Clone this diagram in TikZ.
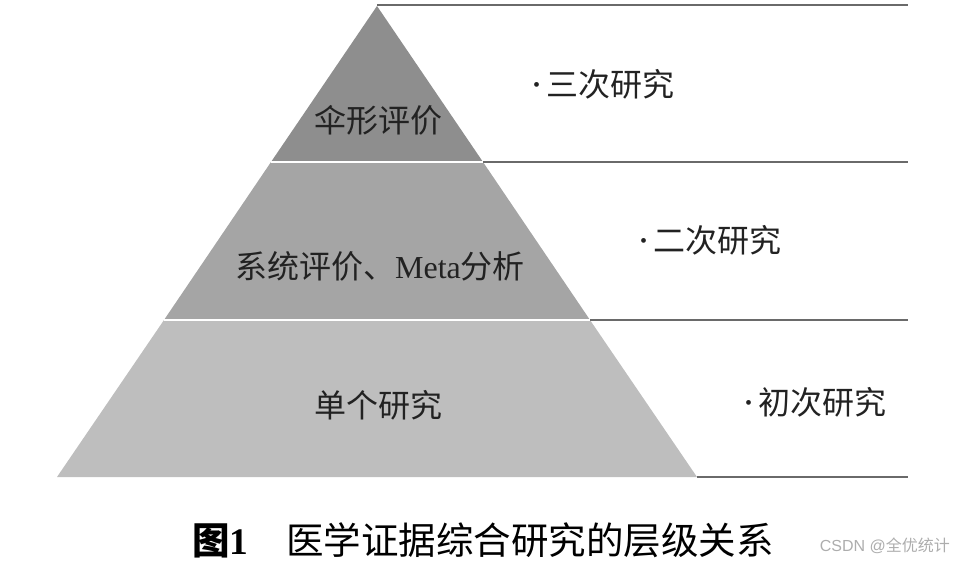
\documentclass[tikz,border=0pt]{standalone}
\usepackage{fontspec}
\setmainfont{Liberation Serif}
\newfontfamily\cjk{Noto Sans CJK SC}
\usepackage{tikz}
\definecolor{topgray}{HTML}{8E8E8E}
\definecolor{midgray}{HTML}{A5A5A5}
\definecolor{lowgray}{HTML}{BEBEBE}
\definecolor{rulegray}{HTML}{6A6A6A}
\definecolor{inkgray}{HTML}{222222}
\newcommand{\dotmark}{\raisebox{5pt}{\fontspec{Liberation Serif}\fontsize{20}{20}\selectfont\textbullet}\hspace{6pt}}
\tikzset{
  lvl/.style={font=\cjk\fontsize{32}{32}\selectfont,text=inkgray,inner sep=0pt},
  rule/.style={rulegray,line width=2pt},
  gap/.style={white,line width=2pt}
}
\begin{document}
\begin{tikzpicture}[x=1pt,y=-1pt,line cap=butt,line join=round]
\useasboundingbox (0,0) rectangle (954,564);
% pyramid corners and layer edges
\coordinate (apex) at (377,6);
\coordinate (aL) at (271,162); \coordinate (aR) at (483,162);
\coordinate (bL) at (164,320); \coordinate (bR) at (590,320);
\coordinate (cL) at (57,477);  \coordinate (cR) at (697,477);
\fill[topgray] (apex) -- (aR) -- (aL) -- cycle;
\fill[midgray] (aL) -- (aR) -- (bR) -- (bL) -- cycle;
\fill[lowgray] (bL) -- (bR) -- (cR) -- (cL) -- cycle;
\draw[gap] (aL) -- (aR);
\draw[gap] (bL) -- (bR);
% rules to the right
\foreach \p/\y in {apex/5,aR/162,bR/320,cR/477} {
  \coordinate (e\p) at (908,\y);
  \draw[rule] (\p |- e\p) -- (e\p);
}
% level labels
\node[lvl] (umb) at (378,120) {伞形评价};
\node[lvl] (sys) at (380,266) {系统评价、\fontspec{Liberation Serif}Meta\cjk 分析};
\node[lvl] (single) at (378,405) {单个研究};
\node[lvl,anchor=west] (third) at (533,84) {\dotmark 三次研究};
\node[lvl,anchor=west] (second) at (640,240) {\dotmark 二次研究};
\node[lvl,anchor=west] (first) at (745,402) {\dotmark 初次研究};
% caption
\node[font=\cjk\fontsize{37.5}{37.5}\selectfont,text=black,inner sep=0pt,anchor=west] (cap) at (192,540)
  {\textbf{图\fontspec{Liberation Serif}1}\hspace{38pt}医学证据综合研究的层级关系};
\node[font=\cjk\fontsize{16}{16}\selectfont,text=black!32,inner sep=0pt,anchor=east] (mark) at (950,546)
  {\fontspec{Liberation Sans}CSDN @\cjk 全优统计};
\end{tikzpicture}
\end{document}
